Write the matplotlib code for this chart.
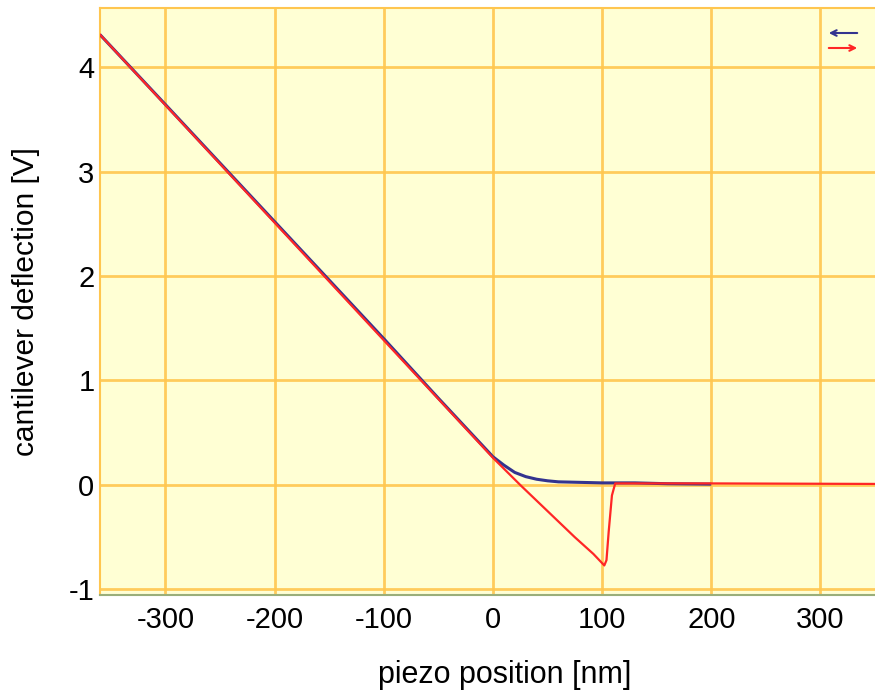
import matplotlib
matplotlib.use("Agg")
import matplotlib.pyplot as plt

# Force curve: cantilever deflection vs. piezo position
approach_x = [-360, -300, -200, -100, 0, 25, 50, 75, 92, 102, 104, 106, 109, 112, 200, 350]
approach_y = [4.31, 3.635, 2.51, 1.385, 0.26, 0.0, -0.25, -0.50, -0.66, -0.77, -0.72, -0.45, -0.10, 0.015, 0.015, 0.01]

retract_x = [-360, -300, -200, -100, -50, 0, 10, 20, 30, 40, 50, 60, 80, 100, 130, 160, 200]
retract_y = [4.31, 3.64, 2.52, 1.40, 0.83, 0.27, 0.19, 0.12, 0.08, 0.055, 0.04, 0.03, 0.025, 0.02, 0.02, 0.012, 0.008]

x_ticks = [-300, -200, -100, 0, 100, 200, 300]
y_ticks = [-1, 0, 1, 2, 3, 4]

plt.rcParams['font.family'] = ['Liberation Sans', 'DejaVu Sans']
plt.rcParams['axes.unicode_minus'] = False

fig = plt.figure(figsize=(8.75, 6.93), dpi=100)
ax = fig.add_axes([100 / 875, 98 / 693, 775 / 875, 587 / 693])
ax.set_facecolor('#FFFFD4')

ax.plot(retract_x, retract_y, color='#33338F', lw=2.2, solid_capstyle='butt', zorder=3)
ax.plot(approach_x, approach_y, color='#FF2626', lw=1.6, zorder=4)

ax.set_xlim(-360, 350)
ax.set_ylim(-1.053, 4.565)
ax.set_xticks(x_ticks)
ax.set_yticks(y_ticks)
ax.grid(True, color='#FFC64F', lw=2.0, alpha=0.9, zorder=1)
ax.set_axisbelow(True)
ax.tick_params(length=0, labelsize=21)
ax.tick_params(axis='x', pad=8)
ax.tick_params(axis='y', pad=4)

for side in ('top', 'right', 'left'):
    ax.spines[side].set_color('#FFC64F')
    ax.spines[side].set_linewidth(1.5)
ax.spines['right'].set_visible(False)
ax.spines['bottom'].set_color('#9AAE7A')
ax.spines['bottom'].set_linewidth(1.5)

ax.set_xlabel('piezo position [nm]', fontsize=22, labelpad=19)
ax.xaxis.label.set_x(0.5226)
ax.set_ylabel('cantilever deflection [V]', fontsize=21.5, labelpad=21)

# direction key: retract (blue, leftward) and approach (red, rightward)
H = 693
ax.annotate('', xy=(826, H - 33), xytext=(860, H - 33), xycoords='figure pixels',
            textcoords='figure pixels',
            arrowprops=dict(arrowstyle='->', color='#33338F', lw=1.5))
ax.annotate('', xy=(860, H - 48), xytext=(826, H - 48), xycoords='figure pixels',
            textcoords='figure pixels',
            arrowprops=dict(arrowstyle='->', color='#FF2626', lw=1.5))

fig.savefig('out.png', dpi=100)
